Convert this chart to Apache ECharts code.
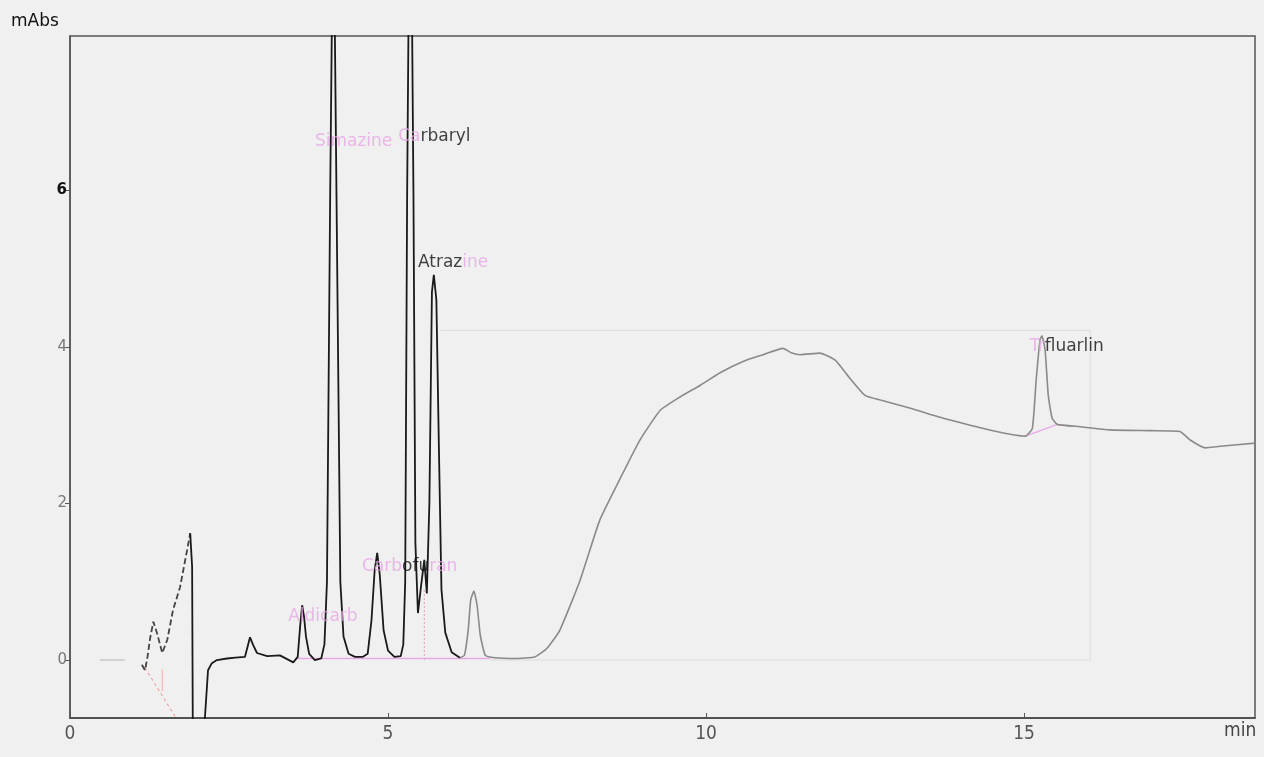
<!doctype html>
<html>
<head>
<meta charset="utf-8">
<title>Chromatogram - mAbs vs min</title>
<script src="https://cdn.jsdelivr.net/npm/echarts@6/dist/echarts.min.js"></script>
<style>
  html, body { margin: 0; padding: 0; background: #f0f0f0; }
  #chart { width: 1264px; height: 757px; }
</style>
</head>
<body>
<div id="chart"></div>
<script>
// ---- data: [time (min), absorbance (mAbs)] ----
var xTicks = [0, 5, 10, 15];
var yTicks = [0, 2, 4, 6];

// solvent front, drawn dashed
var frontTrace = [[1.13,-0.06],[1.18,-0.13],[1.22,0.05],[1.26,0.28],[1.31,0.49],[1.37,0.34],[1.45,0.09],
  [1.53,0.26],[1.62,0.64],[1.73,0.93],[1.84,1.4],[1.89,1.62]];

// early peaks, black trace
var earlyTrace = [[1.89,1.62],[1.92,1.19],[1.93,-0.73],[1.95,-1.0],[2.1,-1.0],[2.12,-0.75],[2.17,-0.13],
  [2.23,-0.04],[2.31,0.0],[2.47,0.02],[2.6,0.03],[2.75,0.04],[2.83,0.29],[2.88,0.19],[2.94,0.09],[3.1,0.05],
  [3.3,0.06],[3.51,-0.03],[3.58,0.04],[3.62,0.45],[3.65,0.7],[3.68,0.55],[3.71,0.3],[3.76,0.08],[3.85,0.0],
  [3.95,0.02],[4.0,0.2],[4.04,1.0],[4.09,5.9],[4.14,10],[4.19,5.9],[4.25,1.0],[4.3,0.3],[4.38,0.08],[4.48,0.04],
  [4.6,0.04],[4.68,0.08],[4.74,0.51],[4.79,1.15],[4.83,1.37],[4.87,1.09],[4.93,0.38],[5.0,0.12],[5.1,0.04],
  [5.2,0.05],[5.24,0.2],[5.27,1.0],[5.3,5.9],[5.35,11],[5.4,5.9],[5.43,1.5],[5.47,0.6],[5.52,0.95],[5.57,1.28],
  [5.61,0.85],[5.65,2.0],[5.69,4.7],[5.72,4.92],[5.76,4.6],[5.8,2.7],[5.84,0.9],[5.9,0.35],[6.0,0.1],
  [6.13,0.03]];

// gradient hump and late peaks, grey trace
var lateTrace = [[6.13,0.03],[6.2,0.06],[6.26,0.38],[6.3,0.77],[6.35,0.88],[6.4,0.7],[6.45,0.32],[6.53,0.06],
  [6.68,0.03],[7.0,0.02],[7.31,0.04],[7.5,0.15],[7.7,0.38],[8.02,1.02],[8.33,1.79],[8.65,2.32],[8.96,2.81],
  [9.28,3.19],[9.59,3.36],[9.91,3.51],[10.22,3.67],[10.6,3.82],[10.9,3.9],[11.21,3.98],[11.35,3.92],
  [11.48,3.9],[11.79,3.92],[12.03,3.83],[12.26,3.6],[12.5,3.38],[12.74,3.32],[13.2,3.22],[13.68,3.1],
  [14.15,3.0],[14.62,2.91],[15.02,2.86],[15.13,2.96],[15.19,3.58],[15.25,4.09],[15.28,4.14],[15.33,3.96],
  [15.38,3.38],[15.44,3.09],[15.52,3.01],[15.88,2.98],[16.35,2.94],[17.0,2.93],[17.45,2.92],[17.61,2.81],
  [17.85,2.71],[18.08,2.73],[18.63,2.77]];

// integration baselines (pink)
var baseFront = [[1.18,-0.1],[1.75,-0.85]];
var baseFrontTick = [[1.45,-0.12],[1.45,-0.4]];
var baseMain = [[3.55,0.02],[6.6,0.02]];
var baseDrop = [[5.57,0.0],[5.57,0.9]];
var baseTri = [[15.02,2.86],[15.52,3.01]];

// faint window box and stray dash (light grey)
var windowBox = [[5.82,4.21],[16.04,4.21],[16.04,0.0],[6.6,0.0]];
var strayDash = [[0.47,0.0],[0.86,0.0]];

// peak names, anchored at the left edge of the text
var peakLabelAt = [[3.43,0.55],[3.85,6.62],[5.16,6.68],[5.47,5.08],[4.59,1.2],[15.09,4.0]];
var peakLabelText = ['{p|Aldicarb}', '{p|Simazine}', '{p|Ca}{k|rbaryl}', '{k|Atraz}{p|ine}',
  '{p|Carb}{k|ofu}{p|ran}', '{p|Tr}{k|fluarlin}'];

var chart = echarts.init(document.getElementById('chart'));

function seg(data, color, width, type) {
  return {
    type: 'line', data: data, showSymbol: false, silent: true, animation: false,
    lineStyle: { color: color, width: width, type: type || 'solid' }, z: 1
  };
}

var pink = '#e9a8e6';

var late = seg(lateTrace, '#8a8a8a', 1.6);
late.smooth = 0.15;

var option = {
  backgroundColor: '#f0f0f0',
  animation: false,
  grid: {
    left: 70, right: 9, top: 36, bottom: 39,
    show: true, borderColor: '#555', borderWidth: 1.5, backgroundColor: 'transparent'
  },
  xAxis: {
    type: 'value', min: 0, max: 18.63, interval: 5,
    axisLine: { show: true, onZero: false, lineStyle: { color: '#444', width: 1.5 } },
    axisTick: { show: true, inside: true, length: 5, lineStyle: { color: '#555' } },
    splitLine: { show: false },
    axisLabel: {
      color: '#555', fontSize: 19, margin: 7,
      fontFamily: 'Liberation Sans Narrow, DejaVu Sans Condensed, sans-serif',
      showMaxLabel: false,
      formatter: function (v) { return xTicks.indexOf(v) >= 0 ? String(v) : ''; }
    }
  },
  yAxis: {
    type: 'value', min: -0.74, max: 7.97,
    axisLine: { show: true, lineStyle: { color: '#555', width: 1.5 } },
    axisTick: { show: true, length: 5, customValues: yTicks, lineStyle: { color: '#555' } },
    splitLine: { show: false },
    axisLabel: {
      customValues: yTicks, margin: 3, fontSize: 15, color: '#777',
      fontFamily: 'DejaVu Sans, sans-serif',
      formatter: function (v) { return v === 6 ? '{b|6}' : String(v); },
      rich: { b: { color: '#111', fontSize: 15, fontWeight: 'bold', fontFamily: 'DejaVu Sans, sans-serif' } }
    }
  },
  graphic: [
    { type: 'text', left: 11, top: 13, style: { text: 'mAbs', fill: '#111', fontSize: 17, fontFamily: 'DejaVu Sans, sans-serif' } },
    { type: 'text', left: 1224, top: 722, style: { text: 'min', fill: '#444', fontSize: 19, fontFamily: 'Liberation Sans Narrow, DejaVu Sans Condensed, sans-serif' } }
  ],
  series: [
    seg(windowBox, '#dcdcdc', 1),
    seg(strayDash, '#c8c8c8', 1.5),
    seg(baseFront, '#f08a8a', 1, [3, 3]),
    seg(baseFrontTick, '#f3b0b0', 1),
    seg(baseMain, pink, 1.5),
    seg(baseDrop, '#d9a0c0', 1, [2, 2]),
    seg(baseTri, pink, 1.2),
    seg(frontTrace, '#444', 1.8, [6, 3]),
    seg(earlyTrace, '#1a1a1a', 1.8),
    late,
    {
      type: 'scatter', data: peakLabelAt, symbolSize: 0, silent: true, z: 5,
      label: {
        show: true, position: 'right', distance: 0,
        formatter: function (p) { return peakLabelText[p.dataIndex]; },
        rich: {
          p: { color: pink, fontSize: 17, fontFamily: 'DejaVu Sans, sans-serif' },
          k: { color: '#111', fontSize: 17, fontFamily: 'DejaVu Sans, sans-serif' }
        }
      }
    }
  ]
};

chart.setOption(option);
</script>
</body>
</html>
